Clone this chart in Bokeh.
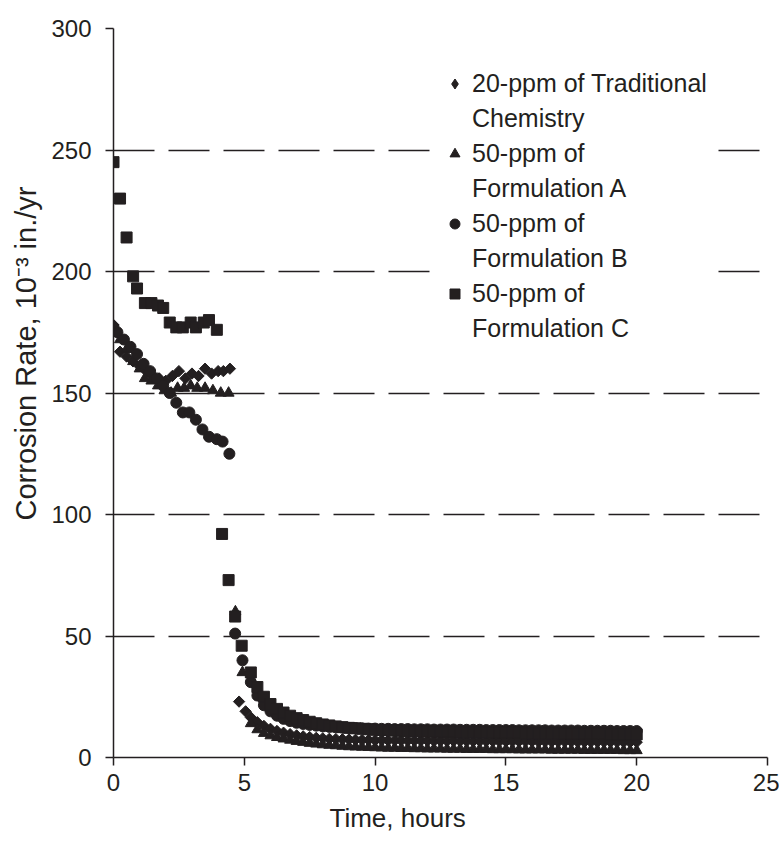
import math
from bokeh.plotting import figure
from bokeh.models import Range1d, FixedTicker, Legend, LegendItem, Title
from bokeh.embed import file_html
from bokeh.resources import INLINE

# ---------------- data ----------------
X_TICKS = [0, 5, 10, 15, 20, 25]
Y_TICKS = [0, 50, 100, 150, 200, 250, 300]
GRID_TICKS = [50, 100, 150, 200, 250]

# shared sampling grid of the long tail (hours)
TAIL_T = [5.25, 5.5, 5.75, 6.0, 6.25, 6.5, 6.75, 7.0, 7.25, 7.5,
          7.75, 8.0, 8.25, 8.5, 8.75, 9.0, 9.25, 9.5, 9.75, 10.0,
          10.25, 10.5, 10.75, 11.0, 11.25, 11.5, 11.75, 12.0, 12.25, 12.5,
          12.75, 13.0, 13.25, 13.5, 13.75, 14.0, 14.25, 14.5, 14.75, 15.0,
          15.25, 15.5, 15.75, 16.0, 16.25, 16.5, 16.75, 17.0, 17.25, 17.5,
          17.75, 18.0, 18.25, 18.5, 18.75, 19.0, 19.25, 19.5, 19.75, 20.0]

# 20-ppm of Traditional Chemistry (diamonds)
trad_t = [0, 0.25, 0.5, 0.75, 1.0, 1.25, 1.5, 1.75, 2.0, 2.25, 2.5,
          2.75, 3.0, 3.25, 3.5, 3.75, 4.0, 4.2, 4.45, 4.8, 5.05]
trad_v = [178, 167, 165, 163, 161, 159, 157, 156, 155, 157, 159,
          156, 158, 157, 160, 158, 159, 159, 160, 23, 19]
trad_tail = [16.5, 14.5, 13.0, 11.8, 10.9, 10.2, 9.6, 9.1, 8.7, 8.4,
             8.1, 7.9, 7.7, 7.6, 7.5, 7.4, 7.3, 7.2, 7.2, 7.1,
             7.1, 7.0, 7.0, 7.0, 6.9, 6.9, 6.9, 6.9, 6.8, 6.8,
             6.8, 6.8, 6.8, 6.7, 6.7, 6.7, 6.7, 6.7, 6.6, 6.6,
             6.6, 6.6, 6.6, 6.6, 6.5, 6.5, 6.5, 6.5, 6.5, 6.5,
             6.4, 6.4, 6.4, 6.4, 6.4, 6.4, 6.4, 6.3, 6.3, 6.3]

# 50-ppm of Formulation A (triangles)
fa_t = [0, 0.25, 0.5, 0.75, 1.0, 1.2, 1.45, 1.7, 1.95, 2.2,
        2.45, 2.7, 2.95, 3.2, 3.5, 3.8, 4.1, 4.4, 4.66, 4.93]
fa_v = [176, 172, 168, 163, 160, 156, 155, 153, 151, 150,
        152, 152, 153, 152, 152, 151, 150, 150, 60, 35]
fa_tail = [14.0, 11.5, 10.0, 9.0, 8.3, 7.7, 7.2, 6.7, 6.3, 5.9,
           5.6, 5.3, 5.1, 4.9, 4.7, 4.5, 4.4, 4.3, 4.2, 4.1,
           4.0, 3.9, 3.9, 3.8, 3.8, 3.7, 3.7, 3.6, 3.6, 3.6,
           3.5, 3.5, 3.5, 3.4, 3.4, 3.4, 3.4, 3.3, 3.3, 3.3,
           3.3, 3.2, 3.2, 3.2, 3.2, 3.2, 3.1, 3.1, 3.1, 3.1,
           3.1, 3.0, 3.0, 3.0, 3.0, 3.0, 3.0, 2.9, 2.9, 2.9]

# 50-ppm of Formulation B (circles)
fb_t = [0, 0.15, 0.4, 0.65, 0.9, 1.15, 1.4, 1.65, 1.9, 2.15, 2.4,
        2.65, 2.9, 3.15, 3.4, 3.65, 3.95, 4.17, 4.43, 4.65, 4.93]
fb_v = [177, 175, 172, 169, 166, 162, 159, 156, 153, 150, 146,
        142, 142, 139, 135, 132, 131, 130, 125, 51, 40]
fb_tail = [31.0, 25.5, 21.5, 19.0, 17.2, 15.9, 15.0, 14.3, 13.8, 13.4,
           13.1, 12.8, 12.6, 12.4, 12.3, 12.2, 12.1, 12.0, 11.9, 11.9,
           11.8, 11.8, 11.7, 11.7, 11.7, 11.6, 11.6, 11.6, 11.5, 11.5,
           11.5, 11.5, 11.4, 11.4, 11.4, 11.4, 11.3, 11.3, 11.3, 11.3,
           11.3, 11.2, 11.2, 11.2, 11.2, 11.2, 11.1, 11.1, 11.1, 11.1,
           11.1, 11.0, 11.0, 11.0, 11.0, 11.0, 10.9, 10.9, 10.9, 10.9]

# 50-ppm of Formulation C (squares)
fc_t = [0, 0.25, 0.5, 0.75, 0.9, 1.2, 1.45, 1.7, 1.9, 2.15, 2.4,
        2.65, 2.95, 3.15, 3.45, 3.65, 3.95, 4.15, 4.4, 4.65, 4.9]
fc_v = [245, 230, 214, 198, 193, 187, 187, 186, 185, 179, 177,
        177, 179, 177, 179, 180, 176, 92, 73, 58, 46]
fc_tail = [35.0, 29.0, 25.0, 22.0, 20.0, 18.5, 17.2, 16.2, 15.4, 14.7,
           14.1, 13.6, 13.2, 12.8, 12.5, 12.2, 12.0, 11.8, 11.6, 11.4,
           11.3, 11.2, 11.1, 11.0, 10.9, 10.8, 10.8, 10.7, 10.6, 10.6,
           10.5, 10.5, 10.4, 10.4, 10.3, 10.3, 10.3, 10.2, 10.2, 10.1,
           10.1, 10.1, 10.0, 10.0, 10.0, 9.9, 9.9, 9.9, 9.8, 9.8,
           9.8, 9.8, 9.7, 9.7, 9.7, 9.6, 9.6, 9.6, 9.6, 9.5]

LABELS = [("20-ppm of Traditional", "Chemistry"),
          ("50-ppm of", "Formulation A"),
          ("50-ppm of", "Formulation B"),
          ("50-ppm of", "Formulation C")]
X_TITLE = "Time, hours"
Y_TITLE = "Corrosion Rate, 10\u207b\u00b3 in./yr"

# ---------------- style ----------------
INK = "#231f20"
FONT = "Liberation Sans"

p = figure(frame_width=654, frame_height=729,
           x_range=Range1d(0, 25), y_range=Range1d(0, 300),
           output_backend="svg", toolbar_location=None,
           min_border_left=113, min_border_right=12,
           min_border_top=28, min_border_bottom=83)
p.outline_line_color = None
p.background_fill_color = "white"

p.xgrid.visible = False
p.ygrid.ticker = FixedTicker(ticks=GRID_TICKS)
p.ygrid.grid_line_color = INK
p.ygrid.grid_line_width = 1.3
p.ygrid.grid_line_dash = "41 14"

p.xaxis.ticker = FixedTicker(ticks=X_TICKS)
p.yaxis.ticker = FixedTicker(ticks=Y_TICKS)
for ax in (p.xaxis[0], p.yaxis[0]):
    ax.axis_line_color = INK
    ax.axis_line_width = 1.5
    ax.major_tick_line_color = INK
    ax.major_tick_line_width = 1.5
    ax.major_tick_in = 0
    ax.major_tick_out = 8
    ax.minor_tick_line_color = None
    ax.major_label_text_font = FONT
    ax.major_label_text_font_size = "24px"
    ax.major_label_text_color = INK
p.xaxis.major_label_standoff = 8
p.yaxis.major_label_standoff = 14

# axis titles (placed off-centre, as in the original)
p.add_layout(Title(text=X_TITLE, align="left", offset=216,
                   text_font=FONT, text_font_size="26px",
                   text_font_style="normal", text_color=INK,
                   standoff=15), "below")
p.add_layout(Title(text=Y_TITLE, align="left", offset=237,
                   text_font=FONT, text_font_size="29px",
                   text_font_style="normal", text_color=INK,
                   standoff=14), "left")

r_trad = p.scatter(trad_t + TAIL_T, trad_v + trad_tail, marker="square",
                   angle=math.pi / 4, size=8, color=INK)
r_fa = p.scatter(fa_t + TAIL_T, fa_v + fa_tail, marker="triangle",
                 size=11, color=INK)
r_fb = p.scatter(fb_t + TAIL_T, fb_v + fb_tail, marker="circle",
                 size=11, color=INK)
r_fc = p.scatter(fc_t + TAIL_T, fc_v + fc_tail, marker="square",
                 size=11, color=INK)

# legend key for the diamonds: the first reading, drawn as a diamond
key_diamond = p.scatter(trad_t[:1], trad_v[:1], marker="diamond",
                        size=11, color=INK)
blank = p.scatter(x=[], y=[], marker="circle", size=1,
                  fill_alpha=0, line_alpha=0)

items = []
for (l1, l2), r in zip(LABELS, [key_diamond, r_fa, r_fb, r_fc]):
    items.append(LegendItem(label=l1, renderers=[r]))
    items.append(LegendItem(label=l2, renderers=[blank]))

legend = Legend(items=items, location=(329, 414),
                background_fill_color="white", background_fill_alpha=1.0,
                border_line_color=None, padding=10, spacing=6, margin=0,
                glyph_width=25, glyph_height=25, label_height=25,
                label_standoff=5, label_text_font=FONT,
                label_text_font_size="25px", label_text_color=INK)
p.add_layout(legend)

open("out.html", "w").write(file_html(p, INLINE))
